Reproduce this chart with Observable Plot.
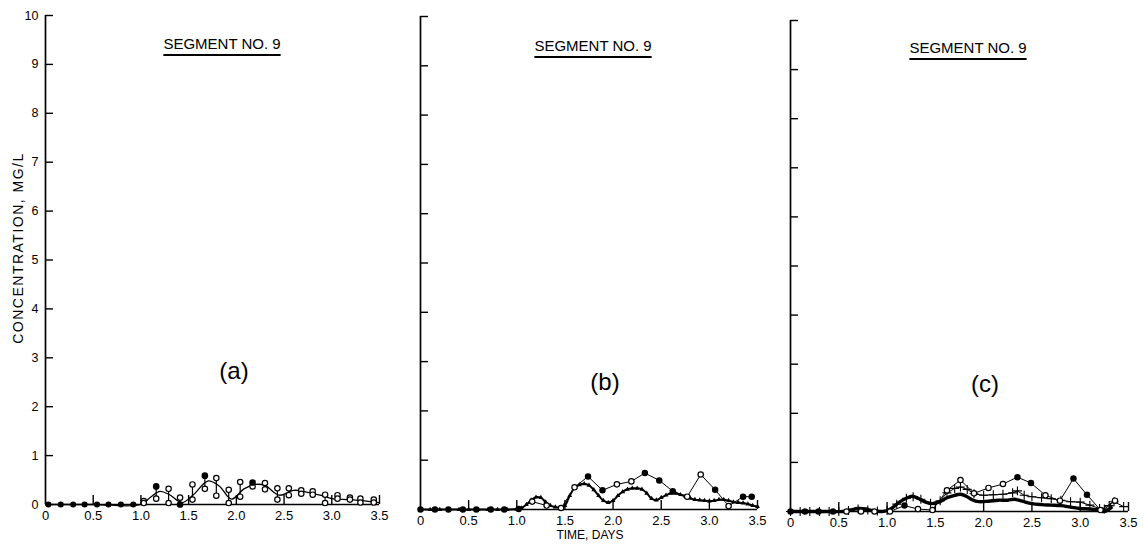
<!DOCTYPE html>
<html><head><meta charset="utf-8">
<script src="https://cdn.jsdelivr.net/npm/d3@7"></script>
<script src="https://cdn.jsdelivr.net/npm/@observablehq/plot@0.6"></script>
<style>
body{margin:0;background:#fff;}
#wrap{position:relative;width:1145px;height:548px;overflow:hidden;font-family:"Liberation Sans",Arial,sans-serif;color:#000;}
.panel{position:absolute;top:0;}
.title{position:absolute;font-size:15px;line-height:15px;text-decoration:underline;text-underline-offset:5px;text-decoration-thickness:1.6px;white-space:nowrap;transform:translateX(-50%);}
.tag{position:absolute;font-size:24px;line-height:24px;transform:translate(-50%,-50%);white-space:nowrap;}
.ylab{position:absolute;font-size:14px;letter-spacing:1.5px;white-space:nowrap;transform:translate(-50%,-50%) rotate(-90deg);}
.xlab{position:absolute;font-size:12px;white-space:nowrap;transform:translateX(-50%);}
</style></head><body><div id="wrap"></div>
<script>
// ---------- ticks ----------
const xTicks = [0, 0.5, 1, 1.5, 2, 2.5, 3, 3.5];
const xTickLabels = ["0", "0.5", "1.0", "1.5", "2.0", "2.5", "3.0", "3.5"];
const yTicks = [0, 1, 2, 3, 4, 5, 6, 7, 8, 9, 10];
const yTickLabels = ["0", "1", "2", "3", "4", "5", "6", "7", "8", "9", "10"];
const panelTitle = "SEGMENT NO. 9";
const panelTags = ["(a)", "(b)", "(c)"];
const xTitle = "TIME, DAYS";
const yTitle = "CONCENTRATION, MG/L";

// ---------- panel (a) ----------
const aBaseT = [0.03, 0.16, 0.29, 0.41, 0.54, 0.66, 0.79, 0.92];
const aBaseV = [0, 0, 0, 0, 0, 0, 0, 0];
const aPairT = [1.03, 1.16, 1.29, 1.41, 1.54, 1.67, 1.79, 1.92, 2.04, 2.17, 2.30, 2.43, 2.55, 2.68, 2.80, 2.93, 3.06, 3.19, 3.30, 3.44];
const aHigh  = [0.07, 0.37, 0.32, 0.14, 0.41, 0.59, 0.54, 0.30, 0.46, 0.45, 0.44, 0.33, 0.33, 0.29, 0.27, 0.20, 0.19, 0.14, 0.12, 0.10];
const aLow   = [0.03, 0.12, 0.03, 0.00, 0.10, 0.32, 0.18, 0.03, 0.16, 0.37, 0.31, 0.10, 0.19, 0.22, 0.20, 0.03, 0.12, 0.10, 0.04, 0.04];
const aHighFilled = [0, 1, 0, 0, 0, 1, 0, 0, 0, 1, 0, 0, 0, 0, 0, 0, 0, 0, 0, 0];
const aLowFilled  = [0, 0, 0, 1, 0, 0, 0, 0, 0, 0, 0, 0, 0, 0, 0, 0, 0, 0, 0, 0];
const aCurveT = [0, 0.5, 1.0, 1.1, 1.2, 1.3, 1.43, 1.55, 1.7, 1.82, 1.95, 2.08, 2.2, 2.3, 2.45, 2.6, 2.75, 2.9, 3.0, 3.2, 3.5];
const aCurveV = [0, 0, 0, 0.15, 0.27, 0.2, 0.04, 0.2, 0.48, 0.38, 0.11, 0.32, 0.41, 0.39, 0.19, 0.29, 0.25, 0.18, 0.12, 0.1, 0.04];

// ---------- panel (b) ----------
const bObsT = [0, 0.15, 0.29, 0.44, 0.58, 0.73, 0.87, 1.02, 1.16, 1.31, 1.46, 1.60, 1.74, 1.89, 2.04, 2.19, 2.33, 2.48, 2.62, 2.77, 2.91, 3.06, 3.20, 3.35, 3.44];
const bObsV = [0, 0, 0, 0, 0, 0, 0, 0.01, 0.16, 0.08, 0.03, 0.45, 0.67, 0.39, 0.51, 0.57, 0.74, 0.59, 0.37, 0.26, 0.71, 0.40, 0.07, 0.26, 0.26];
const bObsFilled = [1, 1, 1, 1, 1, 1, 1, 1, 0, 0, 0, 0, 1, 1, 0, 0, 1, 1, 1, 0, 0, 1, 0, 1, 1];
const bSimT = [0, 0.1, 0.2, 0.3, 0.4, 0.5, 0.6, 0.7, 0.8, 0.9, 1.0, 1.05, 1.1, 1.15, 1.2, 1.25, 1.3, 1.35, 1.4, 1.45, 1.5, 1.55, 1.6, 1.65, 1.7, 1.75, 1.8, 1.85, 1.9, 1.95, 2.0, 2.05, 2.1, 2.15, 2.2, 2.25, 2.3, 2.35, 2.4, 2.45, 2.5, 2.55, 2.6, 2.65, 2.7, 2.75, 2.8, 2.85, 2.9, 2.95, 3.0, 3.05, 3.1, 3.15, 3.2, 3.25, 3.3, 3.35, 3.4, 3.45, 3.5];
const bSimV = [0, 0, 0, 0, 0, 0, 0, 0, 0, 0, 0.01, 0.03, 0.10, 0.19, 0.25, 0.24, 0.15, 0.08, 0.05, 0.04, 0.08, 0.28, 0.44, 0.50, 0.52, 0.49, 0.40, 0.28, 0.18, 0.14, 0.18, 0.28, 0.36, 0.41, 0.43, 0.43, 0.41, 0.33, 0.22, 0.19, 0.24, 0.29, 0.33, 0.33, 0.30, 0.27, 0.23, 0.20, 0.19, 0.18, 0.17, 0.18, 0.20, 0.20, 0.18, 0.15, 0.14, 0.13, 0.11, 0.08, 0.06];

// ---------- panel (c) ----------
const cObsT = [0, 0.15, 0.29, 0.44, 0.58, 0.73, 0.87, 1.03, 1.18, 1.32, 1.47, 1.62, 1.76, 1.90, 2.05, 2.20, 2.35, 2.49, 2.64, 2.79, 2.93, 3.07, 3.21, 3.36];
const cObsV = [0, 0, 0, 0, 0, 0, 0, 0, 0.12, 0.05, 0.03, 0.43, 0.64, 0.37, 0.48, 0.56, 0.70, 0.58, 0.33, 0.22, 0.67, 0.34, 0.03, 0.22];
const cObsFilled = [1, 1, 1, 1, 0, 0, 0, 0, 1, 0, 0, 0, 0, 0, 0, 0, 1, 1, 0, 0, 1, 1, 0, 0];
const cPlusT = [0, 0.1, 0.2, 0.3, 0.4, 0.5, 0.6, 0.7, 0.8, 0.9, 1.0, 1.1, 1.2, 1.27, 1.35, 1.45, 1.55, 1.62, 1.7, 1.76, 1.83, 1.9, 2.0, 2.1, 2.2, 2.3, 2.35, 2.42, 2.5, 2.6, 2.7, 2.8, 2.9, 3.0, 3.1, 3.2, 3.25, 3.3, 3.35, 3.45];
const cPlusV = [0, 0, 0, 0, 0, 0, 0.02, 0.05, 0.03, 0.01, 0.02, 0.15, 0.27, 0.30, 0.25, 0.17, 0.22, 0.38, 0.47, 0.50, 0.45, 0.36, 0.33, 0.34, 0.35, 0.38, 0.42, 0.33, 0.30, 0.28, 0.26, 0.23, 0.20, 0.19, 0.13, 0.06, 0.05, 0.12, 0.20, 0.10];
const cSimT = [0, 0.2, 0.4, 0.55, 0.62, 0.7, 0.78, 0.85, 0.95, 1.0, 1.05, 1.12, 1.2, 1.26, 1.32, 1.4, 1.47, 1.55, 1.62, 1.7, 1.76, 1.82, 1.88, 1.95, 2.05, 2.15, 2.25, 2.32, 2.4, 2.5, 2.6, 2.7, 2.8, 2.9, 3.0, 3.1, 3.2, 3.25, 3.32];
const cSimV = [0, 0, 0, 0, 0.03, 0.06, 0.05, 0.02, 0, 0.02, 0.07, 0.18, 0.27, 0.31, 0.27, 0.19, 0.16, 0.20, 0.28, 0.33, 0.35, 0.31, 0.24, 0.20, 0.21, 0.23, 0.23, 0.25, 0.21, 0.16, 0.14, 0.13, 0.12, 0.09, 0.06, 0.05, 0.02, 0.00, 0.08];

// ---------- helpers ----------
const pts = (T, V, F) => T.map((t, i) => ({t, v: V[i], f: F ? F[i] : 0}));
const fmtX = d => xTickLabels[xTicks.indexOf(d)];
const fmtY = d => yTickLabels[yTicks.indexOf(d)];

function axes(withYLabels) {
  const m = [
    Plot.ruleX([0], {strokeWidth: 1.7}),
    Plot.ruleY([0], {strokeWidth: 1.7}),
    Plot.axisY({ticks: yTicks.slice(1), tickSize: -8, tickFormat: () => "", label: null, strokeWidth: 1.4}),
    Plot.axisX({ticks: xTicks.slice(1), tickSize: -9, tickFormat: () => "", label: null, strokeWidth: 1.4}),
    Plot.axisX({ticks: xTicks, tickSize: 0, tickPadding: 6, tickFormat: fmtX, label: null, fontSize: 13})
  ];
  if (withYLabels) m.push(Plot.axisY({ticks: yTicks, tickSize: 0, tickPadding: 7, tickFormat: fmtY, label: null, fontSize: 12.5}));
  return m;
}

function panel(opts, marks, withYLabels) {
  return Plot.plot({
    width: opts.width, height: 548,
    marginLeft: opts.ml, marginRight: opts.mr, marginTop: opts.mt, marginBottom: opts.mb,
    x: {domain: [0, 3.5]},
    y: {domain: [0, 10]},
    style: {fontFamily: "'Liberation Sans', Arial, sans-serif", color: "black", background: "transparent", overflow: "visible"},
    marks: [...axes(withYLabels), ...marks]
  });
}

const wrap = document.getElementById("wrap");
function place(node, left) { node.classList.add("panel"); node.style.left = left + "px"; wrap.appendChild(node); }

// (a)
const aPairs = aPairT.map((t, i) => ({t, hi: aHigh[i], lo: aLow[i], hf: aHighFilled[i], lf: aLowFilled[i]}));
const aDots = [
  ...aPairs.map(d => ({t: d.t, v: d.hi, f: d.hf})),
  ...aPairs.map(d => ({t: d.t, v: d.lo, f: d.lf}))
];
const pa = panel({width: 392, ml: 45, mr: 13, mt: 15, mb: 44}, [
  Plot.line(pts(aCurveT, aCurveV), {x: "t", y: "v", curve: "catmull-rom", strokeWidth: 1.3}),
  Plot.ruleX(aPairs, {x: "t", y1: "lo", y2: "hi", strokeWidth: 1.2}),
  Plot.dot(pts(aBaseT, aBaseV), {x: "t", y: "v", r: 2.3, fill: "black", stroke: "black"}),
  Plot.dot(aDots.filter(d => !d.f), {x: "t", y: "v", r: 2.7, fill: "white", stroke: "black", strokeWidth: 1.2}),
  Plot.dot(aDots.filter(d => d.f), {x: "t", y: "v", r: 2.6, fill: "black", stroke: "black"})
], true);
place(pa, 0);

// (b)
const bObs = pts(bObsT, bObsV, bObsFilled);
const pb = panel({width: 372, ml: 20, mr: 15, mt: 16, mb: 39}, [
  Plot.line(pts(bSimT, bSimV), {x: "t", y: "v", curve: "catmull-rom", strokeWidth: 2}),
  Plot.dot(pts(bSimT, bSimV), {x: "t", y: "v", symbol: "triangle", r: 1.8, fill: "black"}),
  Plot.line(bObs, {x: "t", y: "v", strokeWidth: 1}),
  Plot.dot(bObs.filter(d => !d.f), {x: "t", y: "v", r: 2.7, fill: "white", stroke: "black", strokeWidth: 1.2}),
  Plot.dot(bObs.filter(d => d.f), {x: "t", y: "v", r: 2.5, fill: "black", stroke: "black"})
], false);
place(pb, 400);

// (c)
const cObs = pts(cObsT, cObsV, cObsFilled);
const pc = panel({width: 375, ml: 20, mr: 17, mt: 20, mb: 37}, [
  Plot.line(pts(cSimT, cSimV), {x: "t", y: "v", curve: "catmull-rom", strokeWidth: 3.4}),
  Plot.line(pts(cPlusT, cPlusV), {x: "t", y: "v", strokeWidth: 1}),
  Plot.dot(pts(cPlusT, cPlusV), {x: "t", y: "v", symbol: "plus", r: 3, stroke: "black", strokeWidth: 1.1}),
  Plot.line(cObs, {x: "t", y: "v", strokeWidth: 1}),
  Plot.dot(cObs.filter(d => !d.f), {x: "t", y: "v", r: 2.7, fill: "white", stroke: "black", strokeWidth: 1.2}),
  Plot.dot(cObs.filter(d => d.f), {x: "t", y: "v", r: 2.5, fill: "black", stroke: "black"})
], false);
place(pc, 770);

// ---------- text annotations ----------
function addDiv(cls, text, left, top) {
  const d = document.createElement("div");
  d.className = cls; d.textContent = text;
  d.style.left = left + "px"; d.style.top = top + "px";
  wrap.appendChild(d);
}
addDiv("title", panelTitle, 222, 36);
addDiv("title", panelTitle, 593, 38);
addDiv("title", panelTitle, 968, 40);
addDiv("tag", panelTags[0], 234, 371);
addDiv("tag", panelTags[1], 605, 382);
addDiv("tag", panelTags[2], 985, 384);
addDiv("xlab", xTitle, 590, 528);
addDiv("ylab", yTitle, 18, 248);
</script></body></html>
